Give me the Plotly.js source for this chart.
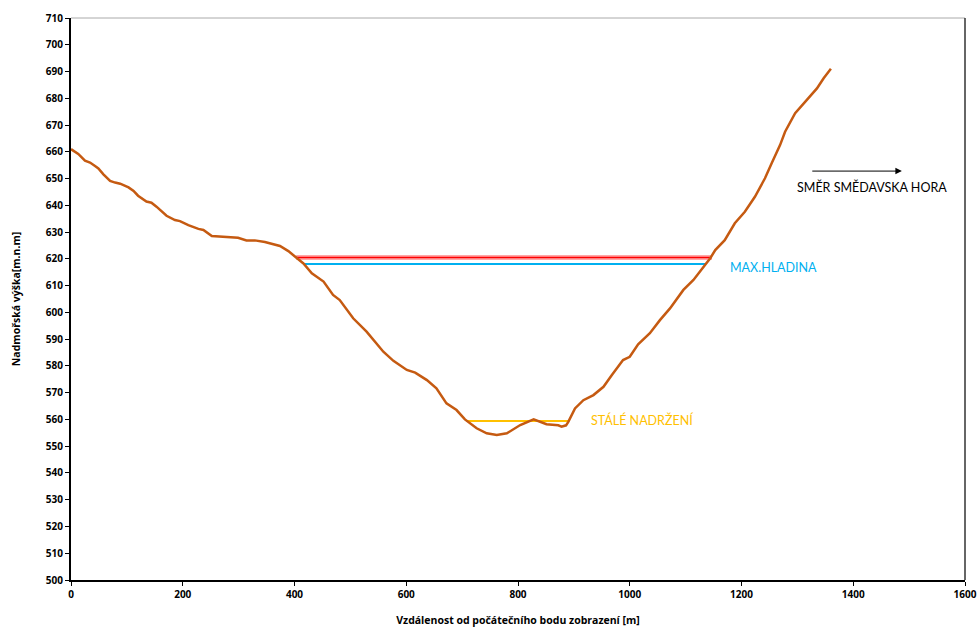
<!DOCTYPE html>
<html><head><meta charset="utf-8">
<script src="https://cdn.plot.ly/plotly-3.0.1.min.js"></script>
<style>html,body{margin:0;padding:0;background:#fff}#chart{width:978px;height:628px}</style>
</head><body><div id="chart"></div>
<script>
// Terrain profile (distance [m], elevation [m n.m.])
const profileX = [0,13,25,34,43,49,58,70,79,88,103,112,120,135,144,153,171,186,195,210,228,237,252,267,276,299,314,329,347,365,374,389,401,404,416,431,452,469,481,505,529,559,577,601,616,637,654,672,690,705,726,744,762,780,804,828,836,851,872,878,886,890,902,917,935,953,968,988,1000,1015,1036,1054,1072,1096,1114,1135,1144,1153,1170,1188,1206,1224,1242,1254,1269,1278,1296,1317,1335,1347,1360];
const profileY = [661,659.2,656.7,656,654.7,653.8,651.6,649.1,648.5,648.1,646.7,645.4,643.6,641.4,641,639.5,636.1,634.5,634.1,632.6,631.2,630.8,628.5,628.3,628,627.9,626.9,626.9,626.3,625.3,624.8,622.9,620.8,620.2,618.3,614.6,611.5,606.5,604.6,597.8,592.8,585.3,581.9,578.5,577.5,574.7,571.6,566,563.5,560,556.7,554.8,554.2,554.8,557.9,560,559.4,558.2,557.8,557.3,557.8,559.1,564.1,567.2,569.1,572.2,576.6,582.2,583.4,588.1,592.2,597.1,601.5,608.4,612.1,618.1,620.2,623.3,627,633.3,637.6,643.2,650.1,655.7,662.5,667.5,674.4,679.4,683.7,687.5,691];

// Water levels
const redLevelX = [403, 1147];
const redLevelY = [620.5, 620.5];
const maxLevelX = [416, 1136];
const maxLevelY = [618.1, 618.1];
const stableLevelX = [707, 892];
const stableLevelY = [559.4, 559.4];

// Labels
const labels = ["MAX.HLADINA", "STÁLÉ NADRŽENÍ", "SMĚR SMĚDAVSKA HORA"];
const labelX = [1176, 927, 1296];
const labelY = [616.6, 559.8, 646.8];
const arrowFrom = [1324, 652.8];
const arrowTo = [1487, 652.8];

const xTicks = [0,200,400,600,800,1000,1200,1400,1600];
const yTicks = [500,510,520,530,540,550,560,570,580,590,600,610,620,630,640,650,660,670,680,690,700,710];

const FONT = "Lato, 'Liberation Sans', sans-serif";
const BFONT = "'Open Sans', 'Liberation Sans', sans-serif";

const traces = [
  {x: redLevelX, y: redLevelY, mode:'lines', line:{color:'rgba(255,60,60,0.45)', width:5}, hoverinfo:'skip'},
  {x: redLevelX, y: redLevelY, mode:'lines', line:{color:'#ff0000', width:1.5}, hoverinfo:'skip'},
  {x: maxLevelX, y: maxLevelY, mode:'lines', line:{color:'#00b0f0', width:2}, hoverinfo:'skip'},
  {x: stableLevelX, y: stableLevelY, mode:'lines', line:{color:'#ffc000', width:2}, hoverinfo:'skip'},
  {x: profileX, y: profileY, mode:'lines', line:{color:'#c55a11', width:2.5}, hoverinfo:'skip'}
];

const colors = ['#00b0f0', '#ffc000', '#000000'];
const annotations = labels.map((t,i)=>({
  x: labelX[i], y: labelY[i], xref:'x', yref:'y', text:t, showarrow:false,
  xanchor:'left', yanchor:'middle', font:{family:FONT, size:12.5, color:colors[i]}
}));
annotations.push({
  x: arrowTo[0], y: arrowTo[1], ax: arrowFrom[0], ay: arrowFrom[1],
  xref:'x', yref:'y', axref:'x', ayref:'y', text:'', showarrow:true,
  arrowhead:2, arrowsize:1.3, arrowwidth:1, arrowcolor:'#000'
});

const layout = {
  width:978, height:628,
  margin:{l:71, r:13, t:18, b:48},
  paper_bgcolor:'#fff', plot_bgcolor:'#fff',
  showlegend:false,
  font:{family:BFONT, color:'#000'},
  xaxis:{
    range:[0,1600], tickvals:xTicks, ticktext:xTicks.map(v=>'<b>'+v+'</b>'),
    showgrid:false, zeroline:false, showline:true, linecolor:'#000', linewidth:2,
    ticks:'outside', ticklen:4, tickwidth:1, tickcolor:'#000',
    tickfont:{family:BFONT, size:10, color:'#000'},
    title:{text:'<b>Vzdálenost od počátečního bodu zobrazení [m]</b>', font:{family:BFONT, size:10.5, color:'#000'}, standoff:17}
  },
  yaxis:{
    range:[500,710], tickvals:yTicks, ticktext:yTicks.map(v=>'<b>'+v+'</b>'),
    showgrid:false, zeroline:false, showline:true, linecolor:'#000', linewidth:2,
    ticks:'outside', ticklen:4, tickwidth:1, tickcolor:'#000',
    tickfont:{family:BFONT, size:10, color:'#000'},
    title:{text:'<b>Nadmořská výška[m.n.m]</b>', font:{family:BFONT, size:10.5, color:'#000'}, standoff:23}
  },
  shapes:[
    {type:'line', xref:'paper', yref:'paper', x0:0, x1:1, y0:1, y1:1, line:{color:'#aaa', width:1}},
    {type:'line', xref:'paper', yref:'paper', x0:1, x1:1, y0:0, y1:1, line:{color:'#333', width:1.5}}
  ],
  annotations: annotations
};

Plotly.newPlot('chart', traces, layout, {displayModeBar:false, staticPlot:true});
</script></body></html>
